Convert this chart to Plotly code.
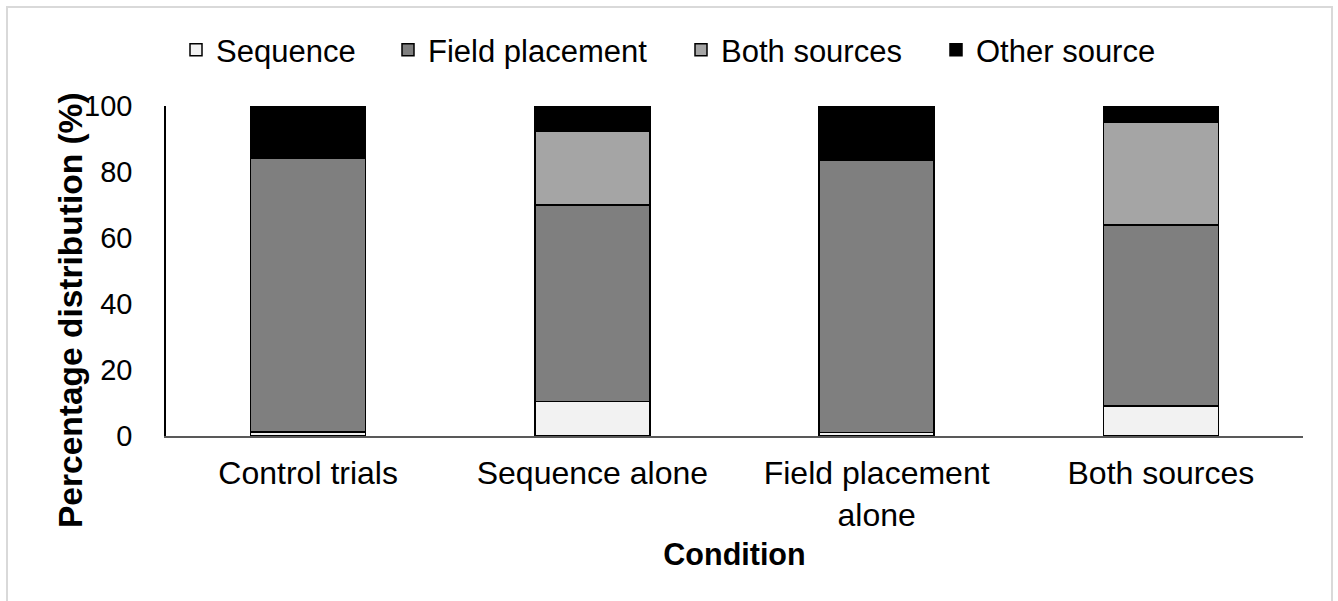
import plotly.graph_objects as go

# Conditions on the x axis and the share of each source (percent)
conditions = ["Control trials", "Sequence alone", "Field placement<br>alone", "Both sources"]
sequence = [1.2, 10.5, 1.1, 9.1]
field_placement = [83.1, 59.5, 82.5, 54.8]
both_sources = [0.0, 22.5, 0.0, 31.2]
other_source = [15.7, 7.5, 16.4, 4.9]
y_ticks = [0, 20, 40, 60, 80, 100]

series = [
    ("Sequence", sequence, "#f2f2f2"),
    ("Field placement", field_placement, "#7f7f7f"),
    ("Both sources", both_sources, "#a5a5a5"),
    ("Other source", other_source, "#000000"),
]

FONT = "Liberation Sans, Arial, sans-serif"
W, H = 1338, 601
# plot area in pixels
PL, PR, PT, PB = 166, 1303, 106, 436
PW, PH = PR - PL, PB - PT


def px_x(px):
    return (px - PL) / PW


def px_y(py):
    return (PB - py) / PH


fig = go.Figure()
legend_ids = ["legend", "legend2", "legend3", "legend4"]
for (name, vals, color), lg in zip(series, legend_ids):
    fig.add_trace(go.Bar(
        x=conditions, y=vals, name=name, legend=lg,
        width=0.405,
        marker=dict(color=color, line=dict(color="#000000", width=1.5)),
    ))

# one single-entry legend per series so the entries can be spaced freely
legend_x = [176, 388, 681, 936]
legend_common = dict(
    orientation="h", xref="container", yref="container",
    yanchor="middle", y=1 - 50 / H, xanchor="left",
    font=dict(family=FONT, size=31, color="#000000"),
    bgcolor="rgba(0,0,0,0)", borderwidth=0, traceorder="normal",
)
layout_legends = {}
for lg, px in zip(legend_ids, legend_x):
    layout_legends[lg] = dict(legend_common, x=px / W)

fig.update_layout(
    width=W, height=H,
    margin=dict(l=PL, r=W - PR, t=PT, b=H - PB),
    paper_bgcolor="#ffffff", plot_bgcolor="#ffffff",
    barmode="stack",
    font=dict(family=FONT, size=28, color="#000000"),
    showlegend=True,
    **layout_legends,
)

fig.update_xaxes(
    showgrid=False, zeroline=False,
    showline=True, linecolor="#595959", linewidth=1.5,
    ticks="", tickfont=dict(size=32),
    ticklabelstandoff=8,
    title=dict(text="<b>Condition</b>", font=dict(size=30.5), standoff=12),
)
fig.update_yaxes(
    range=[0, 100], tickvals=y_ticks, showgrid=False, zeroline=False,
    showline=True, linecolor="#000000", linewidth=1.5,
    ticks="", tickfont=dict(size=29), ticklabelstandoff=26,
)

# rotated y-axis title
fig.add_annotation(
    text="<b>Percentage distribution (%)</b>",
    xref="paper", yref="paper", x=px_x(70), y=px_y(310),
    xanchor="center", yanchor="middle",
    showarrow=False, textangle=-90,
    font=dict(family=FONT, size=33.5, color="#000000"),
)

# light frame around the chart
fig.add_shape(
    type="rect", xref="paper", yref="paper",
    x0=px_x(7), x1=px_x(1332), y0=px_y(620), y1=px_y(7),
    line=dict(color="#d9d9d9", width=2), fillcolor="rgba(0,0,0,0)", layer="below",
)

fig.write_html("out.html")
